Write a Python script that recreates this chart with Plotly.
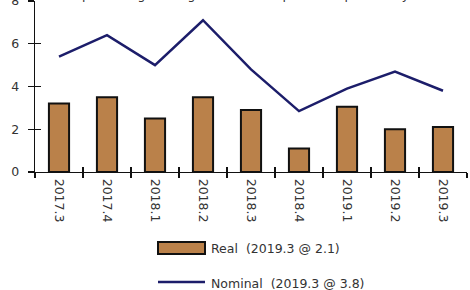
import plotly.graph_objects as go

categories = ["2017.3", "2017.4", "2018.1", "2018.2", "2018.3", "2018.4", "2019.1", "2019.2", "2019.3"]
real = [3.2, 3.5, 2.5, 3.5, 2.9, 1.1, 3.05, 2.0, 2.1]
nominal = [5.4, 6.4, 5.0, 7.1, 4.8, 2.85, 3.9, 4.7, 3.8]
y_ticks = [0, 2, 4, 6, 8]
legend_real = "Real  (2019.3 @ 2.1)"
legend_nominal = "Nominal  (2019.3 @ 3.8)"
top_note = "(percentage change from same quarter of previous year)"

FONT = "DejaVu Sans"
W, H = 470, 290
L, R, T, B = 35, 3, 1, 118
pw, ph = W - L - R, H - T - B

def px(x):
    return (x - L) / pw

def py(y):
    return (H - B - y) / ph

fig = go.Figure()
fig.add_trace(go.Bar(x=categories, y=real, width=0.42,
                     marker=dict(color="#BA814A", line=dict(color="#111111", width=2)),
                     showlegend=False))
fig.add_trace(go.Scatter(x=categories, y=nominal, mode="lines",
                         line=dict(color="#1C1D6A", width=2.5), showlegend=False))
# overlay axes for crossing ticks
fig.add_trace(go.Scatter(x=categories, y=nominal, xaxis="x2", yaxis="y2", mode="lines",
                         line=dict(width=0), hoverinfo="skip", showlegend=False, opacity=0))

tickfont = dict(family=FONT, size=12.5, color="#333333")
fig.update_layout(
    width=W, height=H, margin=dict(l=L, r=R, t=T, b=B, autoexpand=False),
    paper_bgcolor="white", plot_bgcolor="white",
    xaxis=dict(type="category", categoryarray=categories, tickangle=90, tickfont=tickfont,
               showline=True, linecolor="#111111", linewidth=1.2, ticks="outside",
               tickson="boundaries", ticklen=5, tickcolor="#111111", tickwidth=1.2,
               showgrid=False, zeroline=False, range=[-0.5, 8.5], automargin=False,
               ticklabelstandoff=3),
    yaxis=dict(range=[0, 8], tickvals=y_ticks, tickfont=tickfont, showline=True,
               linecolor="#111111", linewidth=1.2, ticks="outside", ticklen=6,
               tickcolor="#111111", tickwidth=1.2, showgrid=False, zeroline=False,
               automargin=False, ticklabeloverflow="allow", ticklabelstandoff=6),
    xaxis2=dict(type="category", categoryarray=categories, overlaying="x", anchor="y2",
                ticks="inside", tickson="boundaries", ticklen=5, tickcolor="#111111",
                tickwidth=1.2, showticklabels=False, showgrid=False, zeroline=False,
                showline=False, range=[-0.5, 8.5], automargin=False),
    yaxis2=dict(range=[0, 8], tickvals=y_ticks, overlaying="y", ticks="inside", ticklen=6,
                tickcolor="#111111", tickwidth=1.2, showticklabels=False, showgrid=False,
                zeroline=False, showline=False, automargin=False),
    bargap=0.5,
)

shapes = [
    dict(type="rect", xref="paper", yref="paper", x0=px(158), x1=px(205), y0=py(254), y1=py(242),
         fillcolor="#BA814A", line=dict(color="#111111", width=2)),
    dict(type="line", xref="paper", yref="paper", x0=px(158), x1=px(205), y0=py(282), y1=py(282),
         line=dict(color="#1C1D6A", width=2.5)),
]
annotations = [
    dict(xref="paper", yref="paper", x=px(209), y=py(248), xanchor="left", yanchor="middle",
         text=legend_real, showarrow=False, font=dict(family=FONT, size=12.5, color="#333333")),
    dict(xref="paper", yref="paper", x=px(209), y=py(283), xanchor="left", yanchor="middle",
         text=legend_nominal, showarrow=False, font=dict(family=FONT, size=12.5, color="#333333")),
    dict(xref="paper", yref="paper", x=px(75), y=py(-5), xanchor="left", yanchor="middle",
         text=top_note, showarrow=False, font=dict(family=FONT, size=12.5, color="#333333")),
]
fig.update_layout(shapes=shapes, annotations=annotations)
fig.write_html("out.html", config={"displayModeBar": False, "staticPlot": True},
               post_script="document.body.style.margin='0px';document.body.style.overflow='hidden';")
